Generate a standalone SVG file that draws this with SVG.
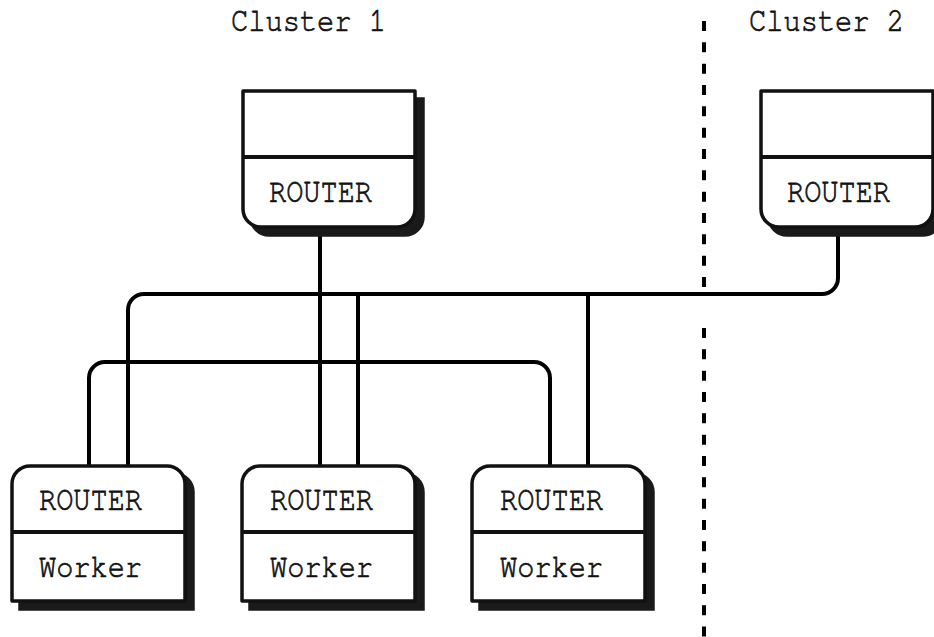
<svg xmlns="http://www.w3.org/2000/svg" width="934" height="637" viewBox="0 0 934 637">
<style>
.bg{fill:#ffffff}
.box{fill:#ffffff;stroke:#111;stroke-width:3.5;stroke-linejoin:round}
.shadow{fill:#1a1a1a;stroke:#1a1a1a;stroke-width:3.5}
.div{stroke:#111;stroke-width:4;fill:none}
.wire{stroke:#000;stroke-width:4;fill:none;stroke-linejoin:round}
.dash{stroke:#000;stroke-width:4;stroke-dasharray:10 11.33;fill:none}
.t{font-family:"Nimbus Mono PS","Nimbus Mono L","FreeMono","Courier New","Liberation Mono",monospace;font-size:34px;fill:#111;stroke:#111;stroke-width:0.7}
</style>
<defs>
<path id="topbox" d="M0,0 H172 V118 A18,18 0 0 1 154,136 H18 A18,18 0 0 1 0,118 Z"/>
<path id="botbox" d="M0,135 V18 A18,18 0 0 1 18,0 H155 A18,18 0 0 1 173,18 V135 Z"/>
</defs>
<rect class="bg" x="0" y="0" width="934" height="637"/>
<g id="separator">
<line class="dash" x1="704" y1="21" x2="704" y2="288"/>
<line class="dash" x1="704" y1="328" x2="704" y2="637"/>
</g>
<g id="labels">
<text class="t" x="231" y="31" textLength="155" lengthAdjust="spacingAndGlyphs">Cluster 1</text>
<text class="t" x="749" y="31" textLength="155" lengthAdjust="spacingAndGlyphs">Cluster 2</text>
</g>
<g id="connectors">
<path class="wire" d="M320,227 V466"/>
<path class="wire" d="M838,228 V278 A16,16 0 0 1 822,294 H144 A16,16 0 0 0 128,310 V466"/>
<path class="wire" d="M358,294 V466"/>
<path class="wire" d="M588,294 V466"/>
<path class="wire" d="M89,466 V378 A16,16 0 0 1 105,362 H534 A16,16 0 0 1 550,378 V466"/>
</g>
<g id="c1-router">
<use href="#topbox" class="shadow" transform="translate(251,99)"/>
<use href="#topbox" class="box" transform="translate(243,91)"/>
<line class="div" x1="243" y1="157" x2="415" y2="157"/>
<text class="t" x="269" y="202" textLength="103" lengthAdjust="spacingAndGlyphs">ROUTER</text>
</g>
<g id="c2-router">
<use href="#topbox" class="shadow" transform="translate(769,99)"/>
<use href="#topbox" class="box" transform="translate(761,91)"/>
<line class="div" x1="761" y1="157" x2="933" y2="157"/>
<text class="t" x="787" y="202" textLength="103" lengthAdjust="spacingAndGlyphs">ROUTER</text>
</g>
<g id="worker-1">
<use href="#botbox" class="shadow" transform="translate(20,474)"/>
<use href="#botbox" class="box" transform="translate(12,466)"/>
<line class="div" x1="12" y1="532" x2="185" y2="532"/>
<text class="t" x="39" y="510" textLength="103" lengthAdjust="spacingAndGlyphs">ROUTER</text>
<text class="t" x="39" y="577" textLength="103" lengthAdjust="spacingAndGlyphs">Worker</text>
</g>
<g id="worker-2">
<use href="#botbox" class="shadow" transform="translate(250,474)"/>
<use href="#botbox" class="box" transform="translate(242,466)"/>
<line class="div" x1="242" y1="532" x2="415" y2="532"/>
<text class="t" x="270" y="510" textLength="103" lengthAdjust="spacingAndGlyphs">ROUTER</text>
<text class="t" x="270" y="577" textLength="103" lengthAdjust="spacingAndGlyphs">Worker</text>
</g>
<g id="worker-3">
<use href="#botbox" class="shadow" transform="translate(480,474)"/>
<use href="#botbox" class="box" transform="translate(472,466)"/>
<line class="div" x1="472" y1="532" x2="645" y2="532"/>
<text class="t" x="500" y="510" textLength="103" lengthAdjust="spacingAndGlyphs">ROUTER</text>
<text class="t" x="500" y="577" textLength="103" lengthAdjust="spacingAndGlyphs">Worker</text>
</g>
</svg>
